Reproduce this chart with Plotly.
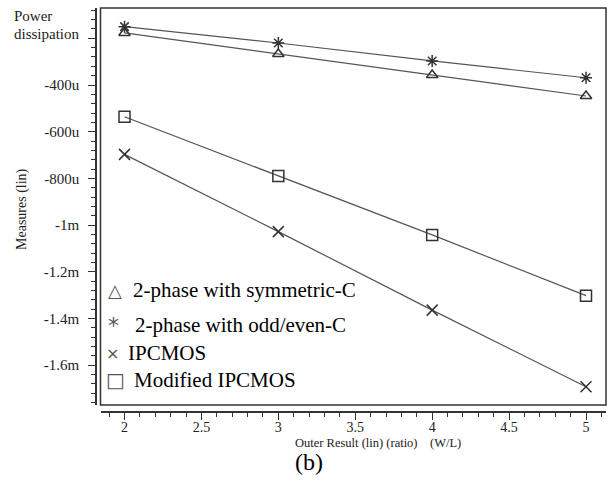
import plotly.graph_objects as go

# ---- data (values in watts) ----
wl_ratio = [2, 3, 4, 5]
sym_c = [-177e-6, -267e-6, -357e-6, -447e-6]        # 2-phase with symmetric-C
odd_even_c = [-150e-6, -220e-6, -297e-6, -369e-6]   # 2-phase with odd/even-C
ipcmos = [-697e-6, -1028e-6, -1364e-6, -1692e-6]    # IPCMOS
mod_ipcmos = [-536e-6, -790e-6, -1042e-6, -1302e-6] # Modified IPCMOS

y_tickvals = [-200e-6, -400e-6, -600e-6, -800e-6, -1e-3, -1.2e-3, -1.4e-3, -1.6e-3]
y_ticktext = ["", "-400u", "-600u", "-800u", "-1m", "-1.2m", "-1.4m", "-1.6m"]
x_tickvals = [2, 2.5, 3, 3.5, 4, 4.5, 5]
x_ticktext = ["2", "2.5", "3", "3.5", "4", "4.5", "5"]

legend_labels = ["2-phase with symmetric-C", "2-phase with odd/even-C", "IPCMOS", "Modified IPCMOS"]
legend_glyphs = ["△", "*", "×", "□"]

W, H = 614, 491
ML, MR, MT, MB = 96, 8, 8, 79
PW = W - ML - MR
PH = H - MT - MB
FONT = "'Times New Roman', 'Liberation Serif', serif"


def px(x):
    return (x - ML) / PW


def py(y):
    return (H - MB - y) / PH


LINE = "#555555"
MK = "#333333"

fig = go.Figure()
series = [
    (sym_c, "triangle-up-open", 10),
    (odd_even_c, "asterisk-open", 10),
    (ipcmos, "x-thin-open", 11),
    (mod_ipcmos, "square-open", 11),
]
for (vals, sym, size), name in zip(series, legend_labels):
    fig.add_trace(go.Scatter(
        x=wl_ratio, y=vals, mode="lines+markers", name=name,
        line=dict(color=LINE, width=1.2),
        marker=dict(symbol=sym, size=size, color=MK, line=dict(color=MK, width=1.5)),
        showlegend=False,
    ))

fig.add_shape(type="rect", xref="x domain", yref="y domain", x0=0, x1=1, y0=0, y1=1,
              line=dict(color="#333333", width=1.5))

ann = []
ann.append(dict(text="Power", x=px(12), y=py(16), xanchor="left", yanchor="middle"))
ann.append(dict(text="dissipation", x=px(12), y=py(34), xanchor="left", yanchor="middle"))
ann.append(dict(text="Measures (lin)", x=px(22), y=py(209), textangle=-90,
                xanchor="center", yanchor="middle", font=dict(size=14, family=FONT, color="#222")))
ann.append(dict(text="Outer Result (lin) (ratio)&nbsp;&nbsp;&nbsp;&nbsp;(W/L)", x=px(378), y=py(443),
                xanchor="center", yanchor="middle", font=dict(size=12.5, family=FONT, color="#222")))
ann.append(dict(text="(b)", x=px(309), y=py(462), xanchor="center", yanchor="middle",
                font=dict(size=24, family=FONT, color="black")))

rows_y = [290, 325, 353, 380]
glyph_x = [115, 113, 112, 115]
text_x = [131, 133, 126, 132]
glyph_size = [18, 22, 16, 20]
for lab, g, yy, gx, tx, gs in zip(legend_labels, legend_glyphs, rows_y, glyph_x, text_x, glyph_size):
    ann.append(dict(text=g, x=px(gx), y=py(yy), xanchor="center", yanchor="middle",
                    font=dict(size=gs, family="DejaVu Sans", color="#555")))
    ann.append(dict(text=lab, x=px(tx), y=py(yy), xanchor="left", yanchor="middle",
                    font=dict(size=21, family=FONT, color="black")))

for a in ann:
    a.setdefault("font", dict(size=15, family=FONT, color="#222"))
    a.update(xref="paper", yref="paper", showarrow=False)

fig.update_layout(
    width=W, height=H,
    margin=dict(l=ML, r=MR, t=MT, b=MB, autoexpand=False),
    paper_bgcolor="white", plot_bgcolor="white",
    font=dict(family=FONT, color="#222"),
    annotations=ann,
    xaxis=dict(
        domain=[px(100.5), 1], range=[1.844, 5.130],
        anchor="free", position=0, automargin=False,
        showgrid=False, zeroline=False,
        showline=True, linecolor="#333", linewidth=1.5,
        ticks="outside", ticklen=7, tickwidth=1.2, tickcolor="#333",
        tickmode="array", tickvals=x_tickvals, ticktext=x_ticktext,
        ticklabelstandoff=-5,
        tickfont=dict(size=14, family=FONT, color="#222"),
        minor=dict(ticks="outside", ticklen=4, tickwidth=1.2, tickcolor="#333",
                   tickmode="linear", tick0=0, dtick=0.1, showgrid=False),
    ),
    yaxis=dict(
        domain=[py(405), 1], range=[-1.7704e-3, -0.0702e-3],
        anchor="free", position=0, automargin=False,
        showgrid=False, zeroline=False,
        showline=True, linecolor="#333", linewidth=1.5,
        ticks="outside", ticklen=7, tickwidth=1.2, tickcolor="#333",
        tickmode="array", tickvals=y_tickvals, ticktext=y_ticktext,
        ticklabelstandoff=6,
        tickfont=dict(size=15, family=FONT, color="#222"),
        minor=dict(ticks="outside", ticklen=4, tickwidth=1.2, tickcolor="#333",
                   tickmode="linear", tick0=0, dtick=40e-6, showgrid=False),
    ),
)

fig.write_html("out.html", config={"displayModeBar": False},
               post_script="document.body.style.margin='0px';")
